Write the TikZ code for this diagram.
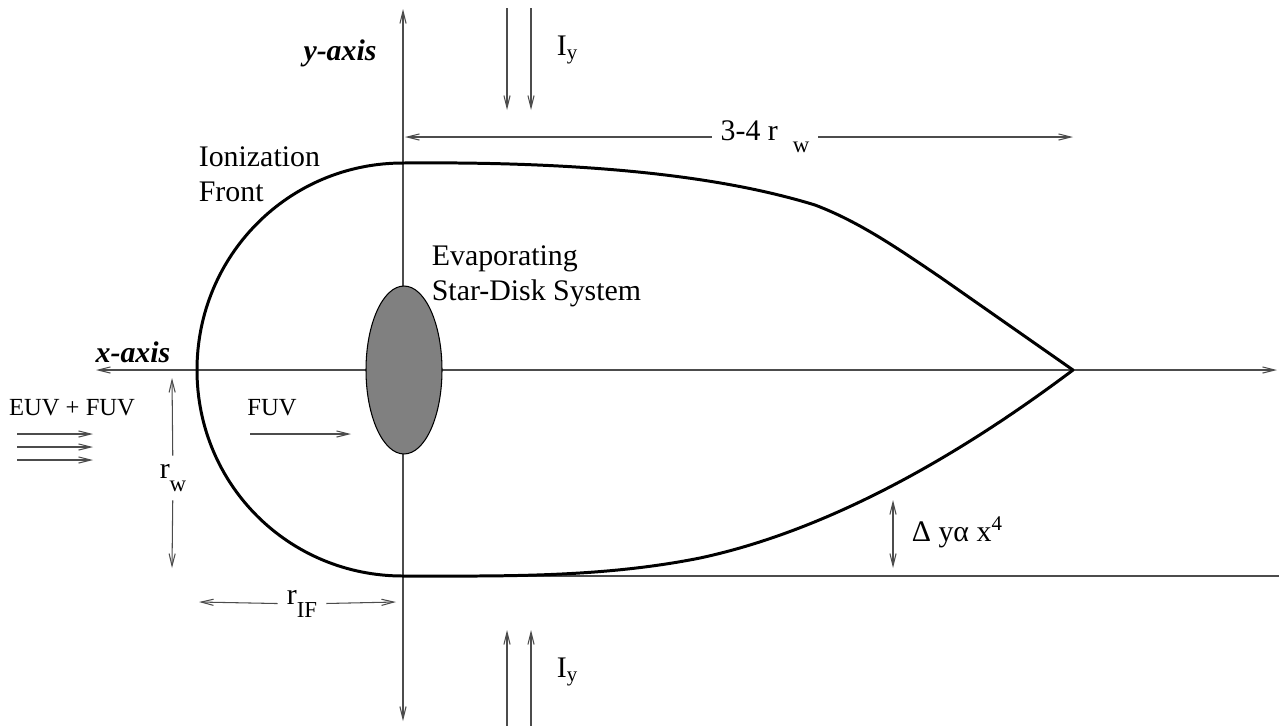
\documentclass[tikz,border=0pt]{standalone}
\usepackage{fontspec}
\setmainfont{Liberation Serif}
\usepackage{tikz}
\usetikzlibrary{arrows.meta,shapes.geometric}

\newcommand{\lowsub}[1]{\raisebox{-0.9ex}{\fontsize{13}{13}\selectfont #1}}

\tikzset{
  thinline/.style={draw=black!70, line width=0.6pt},
  frontline/.style={draw=black, line width=1.7pt, line join=round},
  lbl/.style={font=\fontsize{17}{20}\selectfont, inner sep=2pt},
  gaplbl/.style={font=\fontsize{17}{20}\selectfont, inner sep=5pt},
  smalllbl/.style={font=\fontsize{14}{16}\selectfont, inner sep=2pt},
  axislbl/.style={font=\fontsize{17}{20}\selectfont\bfseries\itshape, inner sep=2pt},
}

\begin{document}
\begin{tikzpicture}[x=0.02cm, y=-0.02cm, >={Straight Barb[length=7pt,width=3.5pt]}]
    \useasboundingbox (0,0) rectangle (1279,725);

    % Axes through the star
    \coordinate (ytop) at (403,9);
    \coordinate (ybot) at (403,721);
    \coordinate (xleft) at (96,370);
    \coordinate (xright) at (1277,370);
    \draw[thinline,<->] (ybot) -- (ytop);
    \draw[thinline,<->] (xleft) -- (xright);
    \node[axislbl] (ylbl) at (340,53) {y-axis};
    \node[axislbl] (xlbl) at (133,352) {x-axis};

    % Tail edge line
    \coordinate (edgeL) at (403,576);
    \coordinate (edgeR) at (1279,576);
    \draw[thinline] (edgeL) -- (edgeR);

    % Ionization front
    \draw[frontline] (403,163) .. controls (620,161) and (740,182) .. (815,205)
        .. controls (860,222) and (900,250) .. (940,277) -- (1073,370)
        .. controls (960,455) and (830,530) .. (700,558)
        .. controls (600,578) and (500,576) .. (403,576)
        .. controls (289,576) and (197,485) .. (197,370)
        .. controls (197,255) and (289,163) .. cycle;

    % Star-disk system
    \node[ellipse, draw=black, fill=black!50, line width=0.6pt, minimum width=1.52cm, minimum height=3.36cm, inner sep=0pt] (disk) at (404,370) {};

    % Labels
    \node[lbl, anchor=west, align=left] (ionlbl) at (195,174) {Ionization\\Front};
    \node[lbl, anchor=west, align=left] (evaplbl) at (428,276) {Evaporating\\Star-Disk System};

    % Side illumination I_y
    \foreach \xx in {507,531} {
        \coordinate (iyta\xx) at (\xx,8);
        \coordinate (iytb\xx) at (\xx,110);
        \coordinate (iyba\xx) at (\xx,727);
        \coordinate (iybb\xx) at (\xx,630);
        \draw[thinline,->] (iyta\xx) -- (iytb\xx);
        \draw[thinline,->] (iyba\xx) -- (iybb\xx);
    }
    \node[lbl, anchor=west] (iytop) at (553,50) {I\textsubscript{y}};
    \node[lbl, anchor=west] (iybot) at (553,672) {I\textsubscript{y}};

    % Tail length
    \coordinate (lenL) at (405,137);
    \coordinate (lenR) at (1073,137);
    \node[gaplbl] (lenlbl) at (765,137) {3-4 r\ \ \lowsub{w}};
    \draw[thinline,->] (lenlbl) -- (lenL);
    \draw[thinline,->] (lenlbl) -- (lenR);

    % Radius r_w
    \coordinate (rwT) at (172,378);
    \coordinate (rwB) at (172,568);
    \node[gaplbl] (rwlbl) at (173,478) {r\lowsub{w}};
    \draw[thinline,->] (rwlbl) -- (rwT);
    \draw[thinline,->] (rwlbl) -- (rwB);

    % Radius r_IF
    \coordinate (rifL) at (199,602);
    \coordinate (rifR) at (396,602);
    \node[gaplbl] (riflbl) at (302,604) {r\lowsub{IF}};
    \draw[thinline,->] (riflbl) -- (rifL);
    \draw[thinline,->] (riflbl) -- (rifR);

    % Incoming radiation
    \node[smalllbl] (euvlbl) at (72,408) {EUV + FUV};
    \foreach \yy in {434,447,460} {
        \coordinate (euva\yy) at (17,\yy);
        \coordinate (euvb\yy) at (93,\yy);
        \draw[thinline,->] (euva\yy) -- (euvb\yy);
    }
    \node[smalllbl] (fuvlbl) at (272,408) {FUV};
    \coordinate (fuvA) at (250,434);
    \coordinate (fuvB) at (351,434);
    \draw[thinline,->] (fuvA) -- (fuvB);

    % Tail widening
    \coordinate (dyT) at (893,500);
    \coordinate (dyB) at (893,568);
    \draw[thinline,<->] (dyT) -- (dyB);
    \node[lbl, anchor=west] (dylbl) at (908,532) {Δ yα x\textsuperscript{4}};
\end{tikzpicture}
\end{document}
